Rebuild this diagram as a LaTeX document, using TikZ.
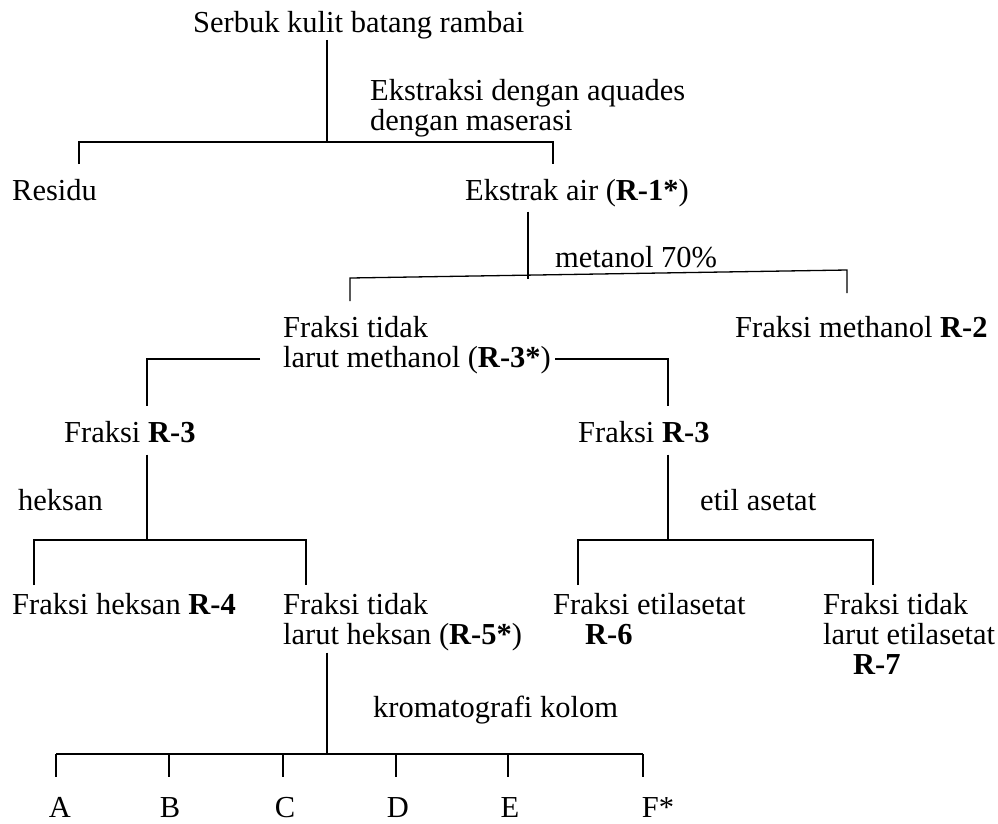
\documentclass[tikz,border=0pt]{standalone}
\usepackage{fontspec}
\setmainfont{Liberation Serif}
\usetikzlibrary{positioning}

\begin{document}
\begin{tikzpicture}[
  x=1pt, y=-1pt,
  lbl/.style={anchor=base west, inner sep=0pt, align=left,
              font=\fontsize{30.5}{30}\selectfont},
  frac/.style={anchor=base, inner sep=0pt, font=\fontsize{30.5}{30}\selectfont},
  branch/.style={line width=1.3pt},
]
\useasboundingbox (0,0) rectangle (998,823);

% texts (base = last line)
\node[lbl] (serbuk) at (193,32) {Serbuk kulit batang rambai};
\node[lbl] (maserasi) at (370,130) {Ekstraksi dengan aquades\\dengan maserasi};
\node[lbl] (residu) at (12,200) {Residu};
\node[lbl] (air) at (465,200) {Ekstrak air (\textbf{R-1*})};
\node[lbl] (metanol) at (555,267) {metanol 70\%};
\node[lbl] (tdkmeth) at (283,367) {Fraksi tidak\\larut methanol (\textbf{R-3*})};
\node[lbl] (meth) at (735,337) {Fraksi methanol \textbf{R-2}};
\node[lbl] (frA3) at (64,442) {Fraksi \textbf{R-3}};
\node[lbl] (frB3) at (578,442) {Fraksi \textbf{R-3}};
\node[lbl] (heksan) at (18,510) {heksan};
\node[lbl] (etil) at (700,510) {etil asetat};
\node[lbl] (hek) at (12,614) {Fraksi heksan \textbf{R-4}};
\node[lbl] (tdkhek) at (283,644) {Fraksi tidak\\larut heksan (\textbf{R-5*})};
\node[lbl] (etilas) at (553,644) {Fraksi etilasetat\\\hspace*{32pt}\textbf{R-6}};
\node[lbl] (tdketil) at (823,674) {Fraksi tidak\\larut etilasetat\\\hspace*{30pt}\textbf{R-7}};
\node[lbl] (kolom) at (373,717) {kromatografi kolom};

% junctions
\coordinate (j1) at (327,142);
\coordinate (e1a) at (79,164);
\coordinate (e1b) at (553,164);
\coordinate (j2) at (528,279);
\coordinate (c2a) at (350,278);
\coordinate (c2b) at (847,270);
\coordinate (e2a) at (350,301);
\coordinate (e2b) at (847,293);
\coordinate (h3a) at (260,359);
\coordinate (h3b) at (555,359);
\coordinate (e3a) at (147,406);
\coordinate (e3b) at (668,406);
\coordinate (j4a) at (147,540);
\coordinate (e4a) at (34,585);
\coordinate (e4b) at (306,585);
\coordinate (j4b) at (668,540);
\coordinate (e4c) at (578,585);
\coordinate (e4d) at (873,585);
\coordinate (j5) at (327,754);

% branches
\draw[branch] ([yshift=-1pt]serbuk.south -| j1) -- (j1);
\draw[branch] (e1a) |- (j1) -| (e1b);
\draw[branch] ([yshift=-5pt]air.south -| j2) -- (j2);
\draw[branch] (e2a) -- (c2a) -- (c2b) -- (e2b);
\draw[branch] (h3a) -| (e3a);
\draw[branch] (h3b) -| (e3b);
\draw[branch] ([yshift=-12pt]frA3.south -| j4a) -- (j4a);
\draw[branch] (e4a) |- (j4a) -| (e4b);
\draw[branch] ([yshift=-12pt]frB3.south -| j4b) -- (j4b);
\draw[branch] (e4c) |- (j4b) -| (e4d);
\draw[branch] ([yshift=-2pt]tdkhek.south -| j5) -- (j5);

% fractions
\foreach \f/\x/\t in {A/60/56, B/170/169, C/285/283, D/398/396, E/510/508, F/658/643} {
  \coordinate (t\f) at (\t,777);
  \draw[branch] (t\f |- j5) -- (t\f);
}
\draw[branch] (tA |- j5) -- (tF |- j5);
\foreach \f/\x in {A/60, B/170, C/285, D/398, E/510} {
  \node[frac] (fr\f) at (\x,817) {\f};
}
\node[frac] (frF) at (658,817) {F*};
\end{tikzpicture}
\end{document}
